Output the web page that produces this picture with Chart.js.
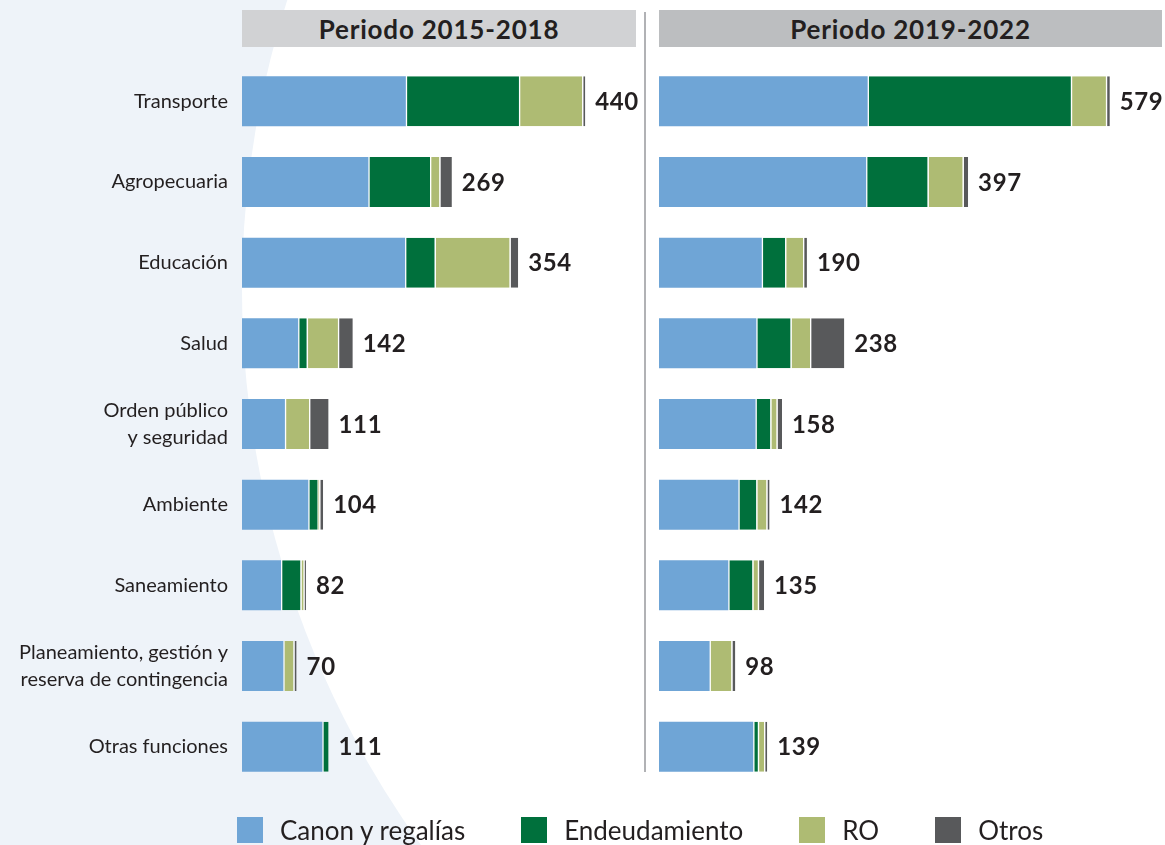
<!DOCTYPE html>
<html>
<head>
<meta charset="utf-8">
<script src="https://cdn.jsdelivr.net/npm/chart.js@4.4.1/dist/chart.umd.min.js"></script>
<style>
  html, body { margin:0; padding:0; }
  body { width:1165px; height:845px; overflow:hidden; position:relative; background:#eef3f9; font-family:"Lato", sans-serif; }
  #circle { position:absolute; left:242px; top:-660px; width:1900px; height:1900px; border-radius:50%; background:#ffffff; }
  .title { position:absolute; top:10px; height:37px; display:flex; align-items:center; justify-content:center; font-weight:bold; font-size:26px; letter-spacing:0.8px; color:#231f20; }
  #t1 { left:242px; width:394px; background:#d1d2d4; }
  #t2 { left:659px; width:503px; background:#bcbec0; }
  #sep { position:absolute; left:644px; top:12px; width:1.5px; height:760px; background:#b1b2b5; }
  #c1wrap { position:absolute; left:0; top:0; width:640px; height:845px; }
  #c2wrap { position:absolute; left:645px; top:0; width:520px; height:845px; }
  #legend { position:absolute; left:237px; top:817px; display:flex; align-items:center; font-size:26px; color:#231f20; }
  #legend .item { display:flex; align-items:center; margin-right:56px; height:26px; }
  #legend .sw { width:26px; height:26px; margin-right:17px; }
</style>
</head>
<body>
<div id="circle"></div>
<div class="title" id="t1">Periodo 2015-2018</div>
<div class="title" id="t2">Periodo 2019-2022</div>
<div id="sep"></div>
<div id="c1wrap"><canvas id="c1"></canvas></div>
<div id="c2wrap"><canvas id="c2"></canvas></div>
<div id="legend"></div>
<script>
const categories = ['Transporte','Agropecuaria','Educación','Salud',['Orden público','y seguridad'],'Ambiente','Saneamiento',['Planeamiento, gestión y','reserva de contingencia'],'Otras funciones'];
const seriesNames = ['Canon y regalías','Endeudamiento','RO','Otros'];

// Periodo 2015-2018
const canon15 = [210,162,209,72,55,85,50,53,103];
const endeu15 = [145,79,38,11,0,12,25,0,8];
const ro15    = [81,12,96,40,31,2,4,13,0];
const otros15 = [4,16,11,19,25,5,3,4,0];
const totals15 = [440,269,354,142,111,104,82,70,111];

// Periodo 2019-2022
const canon19 = [268,266,132,125,124,102,89,65,121];
const endeu19 = [261,79,30,44,19,23,31,0,6];
const ro19    = [45,45,23,25,8,13,7,28,8];
const otros19 = [5,7,5,44,7,4,8,5,4];
const totals19 = [579,397,190,238,158,142,135,98,139];

const colors = ['#6fa5d6','#00703c','#aebb73','#58595b'];

function makeDatasets(arrs){
  return arrs.map((d,i)=>({
    label: seriesNames[i],
    data: d,
    backgroundColor: colors[i],
    borderColor: '#ffffff',
    borderWidth: i===0 ? 0 : {left:1.3, right:0, top:0, bottom:0},
    borderSkipped: false,
    barPercentage: 0.62,
    categoryPercentage: 1.0
  }));
}

const totalsPlugin = {
  id:'totals',
  afterDatasetsDraw(chart, args, opts){
    const ctx = chart.ctx;
    const xs = chart.scales.x, ys = chart.scales.y;
    ctx.save();
    ctx.font = 'bold 24px Lato';
    try { ctx.letterSpacing = '0.6px'; } catch(e) {}
    ctx.fillStyle = '#231f20';
    ctx.textAlign = 'left';
    ctx.textBaseline = 'middle';
    opts.totals.forEach((t,i)=>{
      const x = xs.getPixelForValue(t) + 10;
      const y = ys.getPixelForValue(i) + 1;
      ctx.fillText(String(t), x, y);
    });
    ctx.restore();
  }
};

function makeChart(id, arrs, totals, max, showLabels, padding){
  return new Chart(document.getElementById(id), {
    type:'bar',
    data:{ labels: categories, datasets: makeDatasets(arrs) },
    options:{
      indexAxis:'y',
      responsive:true,
      maintainAspectRatio:false,
      animation:false,
      layout:{ padding: padding },
      plugins:{ legend:{display:false}, tooltip:{enabled:false}, totals:{ totals: totals } },
      scales:{
        x:{ stacked:true, min:0, max:max, display:false },
        y:{
          stacked:true,
          display: showLabels,
          grid:{display:false, drawTicks:false},
          border:{display:false},
          ticks:{ padding:14, color:'#231f20', font:{family:'Lato', size:20, lineHeight:1.35} },
          afterFit(scale){ if(showLabels) scale.width = 242; }
        }
      }
    },
    plugins:[totalsPlugin]
  });
}

Chart.defaults.font.family = 'Lato';
makeChart('c1', [canon15,endeu15,ro15,otros15], totals15, 505, true, {left:0, right:4, top:61, bottom:58});
makeChart('c2', [canon19,endeu19,ro19,otros19], totals19, 646, false, {left:14, right:3, top:61, bottom:58});

const lg = document.getElementById('legend');
seriesNames.forEach((n,i)=>{
  const it = document.createElement('div'); it.className='item';
  const sw = document.createElement('div'); sw.className='sw'; sw.style.background = colors[i];
  const tx = document.createElement('span'); tx.textContent = n;
  it.appendChild(sw); it.appendChild(tx); lg.appendChild(it);
});
</script>
</body>
</html>
